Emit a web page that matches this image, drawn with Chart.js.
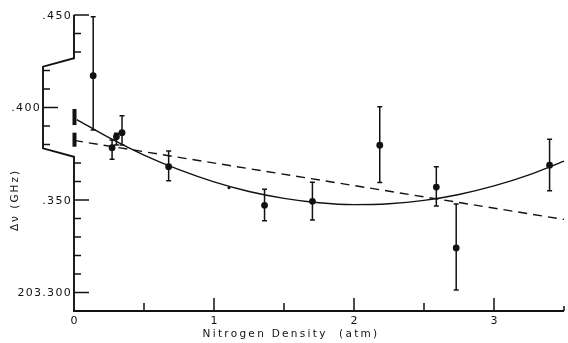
<!DOCTYPE html>
<html>
<head>
<meta charset="utf-8">
<script src="https://cdn.jsdelivr.net/npm/chart.js@4"></script>
<style>
  html, body { margin: 0; padding: 0; background: #fff; }
  #wrap { width: 568px; height: 343px; position: relative; }
</style>
</head>
<body>
<div id="wrap"><canvas id="c" width="568" height="343"></canvas></div>
<script>
// ---- data ----
const pointX   = [0.137, 0.272, 0.303, 0.343, 0.676, 1.361, 1.703, 2.184, 2.588, 2.730, 3.397];
const pointY   = [0.4172, 0.3783, 0.3842, 0.3864, 0.3680, 0.3471, 0.3493, 0.3796, 0.3570, 0.3241, 0.3688];
const errHigh  = [0.4491, 0.3824, 0.3861, 0.3956, 0.3765, 0.3558, 0.3596, 0.4004, 0.3680, 0.3478, 0.3828];
const errLow   = [0.3878, 0.3720, 0.3797, 0.3797, 0.3604, 0.3388, 0.3392, 0.3594, 0.3468, 0.3014, 0.3550];
const extraX   = [1.107];
const extraY   = [0.3566];
const zeroBarLow  = [0.3905, 0.3788];
const zeroBarHigh = [0.3992, 0.3864];
const fitX = [0.02, 0.25, 0.5, 0.75, 1.0, 1.25, 1.5, 1.75, 2.0, 2.25, 2.5, 2.75, 3.0, 3.25, 3.5];
const fitY = [0.3935, 0.3837, 0.3743, 0.3664, 0.3598, 0.3546, 0.3509, 0.3485, 0.3475, 0.3480, 0.3498, 0.3530, 0.3576, 0.3636, 0.3710];
const lineX = [0.0, 3.5];
const lineY = [0.3822, 0.3395];
const xTickValues = [0, 1, 2, 3];
const xTickLabels = ['0', '1', '2', '3'];
const yTickValues = [0.45, 0.40, 0.35, 0.30];
const yTickLabels = ['.450', '.400', '.350', '203.300'];
const xTitle = 'Nitrogen Density  (atm)';
const yTitle = 'Δν (GHz)';

const INK = '#121212';
const FONT = '"DejaVu Sans", sans-serif';

const zip = (xs, ys) => xs.map((x, i) => ({ x: x, y: ys[i] }));

const axesPlugin = {
  id: 'axesPlugin',
  afterDatasetsDraw(chart) {
    const ctx = chart.ctx;
    const xs = chart.scales.x, ys = chart.scales.y;
    const ax = xs.getPixelForValue(0);
    const ay = ys.getPixelForValue(0.29);
    ctx.save();
    ctx.strokeStyle = INK;
    ctx.fillStyle = INK;
    ctx.lineCap = 'butt';

    // error bars
    ctx.lineWidth = 1.5;
    for (let i = 0; i < pointX.length; i++) {
      const px = xs.getPixelForValue(pointX[i]);
      const top = ys.getPixelForValue(errHigh[i]);
      const bot = ys.getPixelForValue(errLow[i]);
      ctx.beginPath();
      ctx.moveTo(px, top); ctx.lineTo(px, bot);
      ctx.moveTo(px - 2.5, top); ctx.lineTo(px + 2.5, top);
      ctx.moveTo(px - 2.5, bot); ctx.lineTo(px + 2.5, bot);
      ctx.stroke();
    }
    // bars at zero density
    for (let i = 0; i < zeroBarLow.length; i++) {
      const t = ys.getPixelForValue(zeroBarHigh[i]);
      const b = ys.getPixelForValue(zeroBarLow[i]);
      ctx.fillRect(ax - 1.5, t, 4, b - t);
    }

    // y axis with leftward jog
    const off = 31;
    const yJ1 = ys.getPixelForValue(0.4266), yJ2 = ys.getPixelForValue(0.4221);
    const yJ3 = ys.getPixelForValue(0.3779), yJ4 = ys.getPixelForValue(0.3734);
    const yTop = ys.getPixelForValue(0.45);
    ctx.lineWidth = 1.9;
    ctx.beginPath();
    ctx.moveTo(ax, yTop);
    ctx.lineTo(ax, yJ1);
    ctx.lineTo(ax - off, yJ2);
    ctx.lineTo(ax - off, yJ3);
    ctx.lineTo(ax, yJ4);
    ctx.lineTo(ax, ay);
    ctx.stroke();
    // y ticks every .01
    ctx.lineWidth = 1.5;
    for (let k = 30; k <= 45; k++) {
      const v = k / 100;
      const py = ys.getPixelForValue(v);
      const base = (py > yJ2 && py < yJ3) ? ax - off : ax;
      const major = (k % 5 === 0);
      ctx.beginPath();
      ctx.moveTo(base, py);
      ctx.lineTo(base + (major ? 15 : 7), py);
      ctx.stroke();
    }
    // y tick labels
    ctx.font = '11px ' + FONT;
    ctx.letterSpacing = '1.3px';
    ctx.textAlign = 'right';
    ctx.textBaseline = 'middle';
    for (let i = 0; i < yTickValues.length; i++) {
      const py = ys.getPixelForValue(yTickValues[i]);
      const base = (py > yJ2 && py < yJ3) ? ax - off : ax;
      ctx.fillText(yTickLabels[i], base - 2, py + 1);
    }

    // x axis
    const xr = xs.getPixelForValue(3.5);
    ctx.lineWidth = 2;
    ctx.beginPath();
    ctx.moveTo(ax - 1, ay); ctx.lineTo(xr, ay);
    ctx.stroke();
    ctx.lineWidth = 1.5;
    for (let k = 1; k <= 7; k++) {
      const v = k / 2;
      const px = xs.getPixelForValue(v);
      const h = (k === 7) ? 5 : (k % 2 === 0 ? 13 : 8);
      ctx.beginPath();
      ctx.moveTo(px, ay); ctx.lineTo(px, ay - h);
      ctx.stroke();
    }
    ctx.textAlign = 'center';
    ctx.textBaseline = 'middle';
    ctx.font = '11px ' + FONT;
    ctx.letterSpacing = '0px';
    for (let i = 0; i < xTickValues.length; i++) {
      ctx.fillText(xTickLabels[i], xs.getPixelForValue(xTickValues[i]), ay + 10.5);
    }
    // titles
    ctx.font = '10.5px ' + FONT;
    ctx.letterSpacing = '2.3px';
    ctx.fillText(xTitle, 291, 334);
    ctx.save();
    ctx.translate(15, 200);
    ctx.rotate(-Math.PI / 2);
    ctx.letterSpacing = '2px';
    ctx.fillText(yTitle, 0, 0);
    ctx.restore();
    ctx.restore();
  }
};

new Chart(document.getElementById('c'), {
  type: 'scatter',
  data: {
    datasets: [
      {
        label: 'fit',
        data: zip(fitX, fitY),
        showLine: true,
        borderColor: INK,
        borderWidth: 1.4,
        pointRadius: 0,
        cubicInterpolationMode: 'monotone',
        clip: false
      },
      {
        label: 'linear',
        data: zip(lineX, lineY),
        showLine: true,
        borderColor: INK,
        borderWidth: 1.4,
        borderDash: [9, 6],
        pointRadius: 0,
        clip: false
      },
      {
        label: 'measured',
        data: zip(pointX, pointY),
        showLine: false,
        pointRadius: 3.4,
        pointBackgroundColor: INK,
        pointBorderColor: INK,
        pointBorderWidth: 0,
        clip: false
      },
      {
        label: 'extra',
        data: zip(extraX, extraY),
        showLine: false,
        pointRadius: 1.5,
        pointBackgroundColor: INK,
        pointBorderColor: INK,
        pointBorderWidth: 0,
        clip: false
      }
    ]
  },
  options: {
    responsive: false,
    animation: false,
    devicePixelRatio: 1,
    layout: { padding: { left: 74, right: 1, top: 15, bottom: 32 } },
    plugins: { legend: { display: false }, tooltip: { enabled: false }, title: { display: false } },
    scales: {
      x: { type: 'linear', min: 0, max: 3.5, display: false },
      y: { type: 'linear', min: 0.29, max: 0.45, display: false }
    }
  },
  plugins: [axesPlugin]
});
</script>
</body>
</html>
